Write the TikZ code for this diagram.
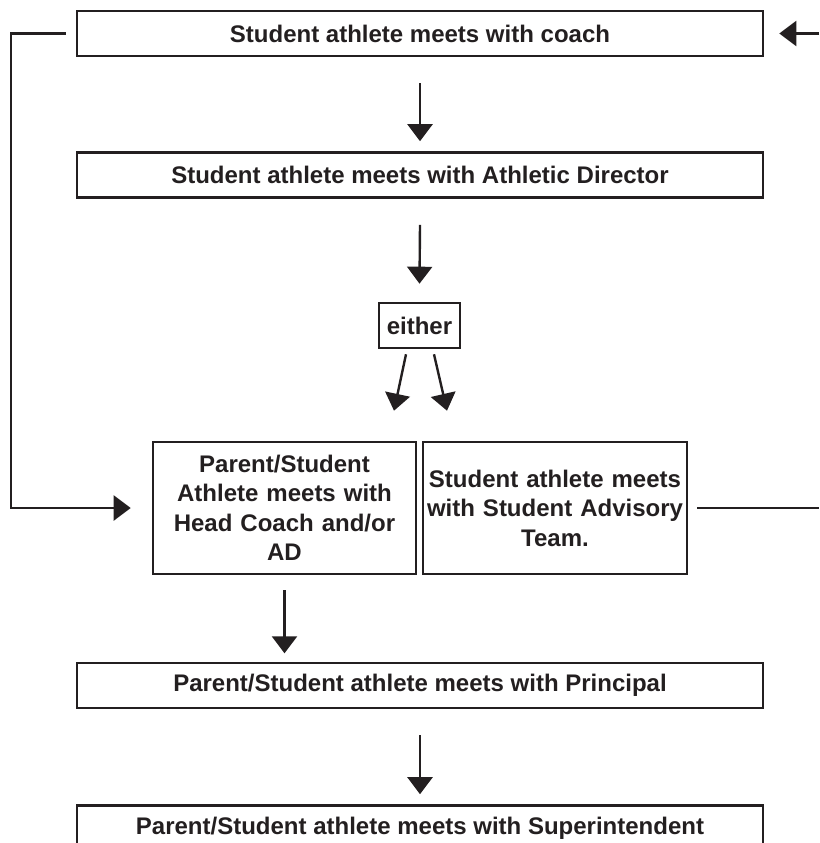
\documentclass[tikz,border=0pt]{standalone}
\usepackage{fontspec}
\setmainfont{Liberation Sans}
\usetikzlibrary{arrows.meta}
\definecolor{ink}{RGB}{35,31,32}

\begin{document}
\begin{tikzpicture}[x=1pt,y=-1pt,
  box/.style={draw=ink, line width=2.6pt, inner sep=0pt, minimum height=45pt,
    text=ink, font=\fontsize{24}{29.5}\selectfont\bfseries},
  widebox/.style={box, minimum width=686pt},
  halfbox/.style={box, minimum height=132pt, align=center},
  arr/.style={draw=ink, line width=2.4pt, -{Triangle[length=17pt,width=25pt]}},
  link/.style={draw=ink, line width=2.4pt}]
\useasboundingbox (0,0) rectangle (819,843);

% steps
\node[widebox] (coach) at (420,33.5) {Student athlete meets with coach};
\node[widebox] (ad) at (420,175) {Student athlete meets with Athletic Director};
\node[box, minimum width=81pt] (either) at (419.5,325.5) {either};
\node[halfbox, minimum width=263pt, text width=250pt] (hc) at (284.5,508)
  {Parent/Student\\Athlete meets with\\Head Coach and/or\\AD};
\node[halfbox, minimum width=264pt, text width=258pt] (sat) at (555,508)
  {Student athlete meets\\with Student Advisory\\Team.};
\node[widebox] (principal) at (420,685.5) {Parent/Student athlete meets with Principal};
\node[widebox] (super) at (420,828) {Parent/Student athlete meets with Superintendent};

% rails at the edges
\coordinate (lrail) at (11,0);
\coordinate (rrail) at (819,0);

% arrows down
\draw[arr] ([yshift=-26pt]coach.south) -- ([yshift=10pt]ad.north);
\draw[arr] ([yshift=-26pt]ad.south) -- ([yshift=18pt]either.north);
\draw[arr] ([shift={(-13.5,5)}]either.south) -- ([shift={(109.5,-30)}]hc.north);
\draw[arr] ([shift={(14.5,5)}]either.south) -- ([shift={(-108,-30)}]sat.north);
\draw[arr] ([yshift=-15pt]hc.south) -- ([yshift=-78pt]hc.south);
\draw[arr] ([yshift=-26pt]principal.south) -- ([yshift=10pt]super.north);

% loops back
\draw[arr] ([xshift=-10pt]coach.west) -- (coach.west -| lrail) -- (hc.west -| lrail) -- ([xshift=-21pt]hc.west);
\draw[link] ([xshift=9pt]sat.east) -- (sat.east -| rrail);
\draw[arr] (coach.east -| rrail) -- ([xshift=15pt]coach.east);

\end{tikzpicture}
\end{document}
